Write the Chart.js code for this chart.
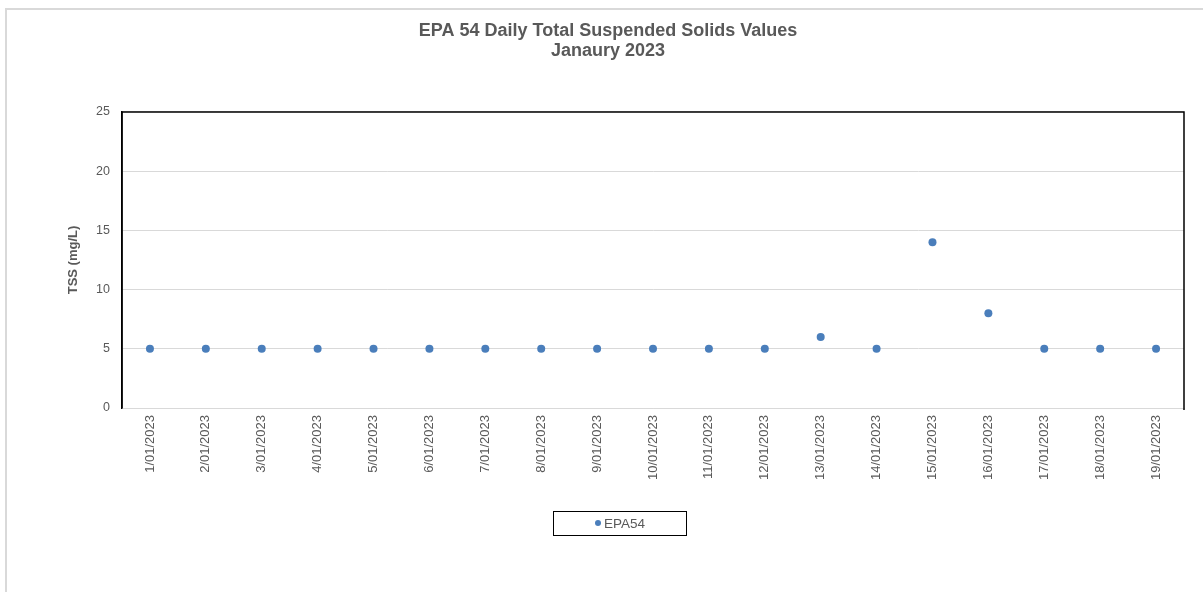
<!DOCTYPE html>
<html>
<head>
<meta charset="utf-8">
<script src="https://cdn.jsdelivr.net/npm/chart.js@4/dist/chart.umd.min.js"></script>
<style>
    html, body { margin: 0; padding: 0; background: #fff; overflow: hidden; }
    #frame {
        position: absolute; left: 5px; top: 8px;
        width: 1210px; height: 600px;
        border-left: 2px solid #d9d9d9; border-top: 2px solid #d9d9d9;
    }
    #frame canvas { position: absolute; left: -2px; top: -2px; }
</style>
</head>
<body>
<div id="frame"><canvas id="tssChart" width="1206" height="584"></canvas></div>
<script>
// 日付ラベル
const dates = ['1/01/2023', '2/01/2023', '3/01/2023', '4/01/2023', '5/01/2023', '6/01/2023',
    '7/01/2023', '8/01/2023', '9/01/2023', '10/01/2023', '11/01/2023', '12/01/2023',
    '13/01/2023', '14/01/2023', '15/01/2023', '16/01/2023', '17/01/2023', '18/01/2023', '19/01/2023'];
// TSS値 (mg/L)
const epa54 = [5, 5, 5, 5, 5, 5, 5, 5, 5, 5, 5, 5, 6, 5, 14, 8, 5, 5, 5];
const titleLines = ['EPA 54 Daily Total Suspended Solids Values', 'Janaury 2023'];
const yTitle = 'TSS (mg/L)';

const textColor = '#595959';
const gridColor = '#d9d9d9';
const pointColor = '#4a7ebb';
const fontFamily = '"Liberation Sans", Arial, sans-serif';

// プロット枠（上・左・右は黒）
const frameBorder = {
    id: 'frameBorder',
    beforeDatasetsDraw(chart) {
        const { ctx, chartArea: a } = chart;
        ctx.save();
        ctx.strokeStyle = '#000';
        ctx.lineWidth = 1.5;
        ctx.beginPath();
        ctx.moveTo(a.left, a.bottom);
        ctx.lineTo(a.left, a.top);
        ctx.lineTo(a.right, a.top);
        ctx.lineTo(a.right, a.bottom + 2);
        ctx.stroke();
        ctx.restore();
    }
};

// 枠付き凡例
const boxedLegend = {
    id: 'boxedLegend',
    afterDraw(chart) {
        const { ctx } = chart;
        const ds = chart.data.datasets[0];
        ctx.save();
        ctx.strokeStyle = '#000';
        ctx.lineWidth = 1;
        ctx.strokeRect(548.5, 503.5, 133, 24);
        ctx.fillStyle = ds.backgroundColor;
        ctx.beginPath();
        ctx.arc(593, 515, 3, 0, Math.PI * 2);
        ctx.fill();
        ctx.fillStyle = textColor;
        ctx.font = '13.5px ' + fontFamily;
        ctx.textBaseline = 'middle';
        ctx.fillText(ds.label, 599, 516);
        ctx.restore();
    }
};

const config = {
    type: 'line',
    data: {
        labels: dates,
        datasets: [{
            label: 'EPA54',
            data: epa54,
            showLine: false,
            backgroundColor: pointColor,
            borderColor: pointColor,
            pointRadius: 4,
            pointBorderWidth: 0,
            pointHoverRadius: 4
        }]
    },
    options: {
        responsive: false,
        devicePixelRatio: 1,
        animation: false,
        layout: { padding: { left: 0, right: 0, top: 0, bottom: 104 } },
        plugins: {
            legend: { display: false },
            tooltip: { enabled: false },
            title: {
                display: true,
                text: titleLines,
                color: textColor,
                font: { family: fontFamily, size: 18, weight: 'bold', lineHeight: 1.11 },
                padding: { top: 13, bottom: 51 }
            }
        },
        scales: {
            x: {
                offset: true,
                grid: { display: false, drawTicks: false },
                border: { display: true, color: gridColor, width: 1 },
                ticks: {
                    color: textColor,
                    font: { family: fontFamily, size: 13 },
                    minRotation: 90,
                    maxRotation: 90,
                    autoSkip: false,
                    padding: 7
                },
                afterFit(scale) { scale.height = 80; }
            },
            y: {
                min: 0,
                max: 25,
                grid: { color: gridColor, drawTicks: false },
                border: { display: true, color: '#000', width: 1.5 },
                ticks: {
                    stepSize: 5,
                    color: textColor,
                    font: { family: fontFamily, size: 12.5 },
                    padding: 12
                },
                title: {
                    display: true,
                    text: yTitle,
                    color: textColor,
                    font: { family: fontFamily, size: 13, weight: 'bold' },
                    padding: { top: 61, bottom: 0 }
                },
                afterFit(scale) { scale.width = 117; }
            },
            // 右側の余白用（表示なし）
            yRight: {
                position: 'right',
                min: 0,
                max: 25,
                grid: { display: false, drawTicks: false },
                border: { display: false },
                ticks: { display: false },
                afterFit(scale) { scale.width = 27; }
            }
        }
    },
    plugins: [frameBorder, boxedLegend]
};

new Chart(document.getElementById('tssChart'), config);
</script>
</body>
</html>
